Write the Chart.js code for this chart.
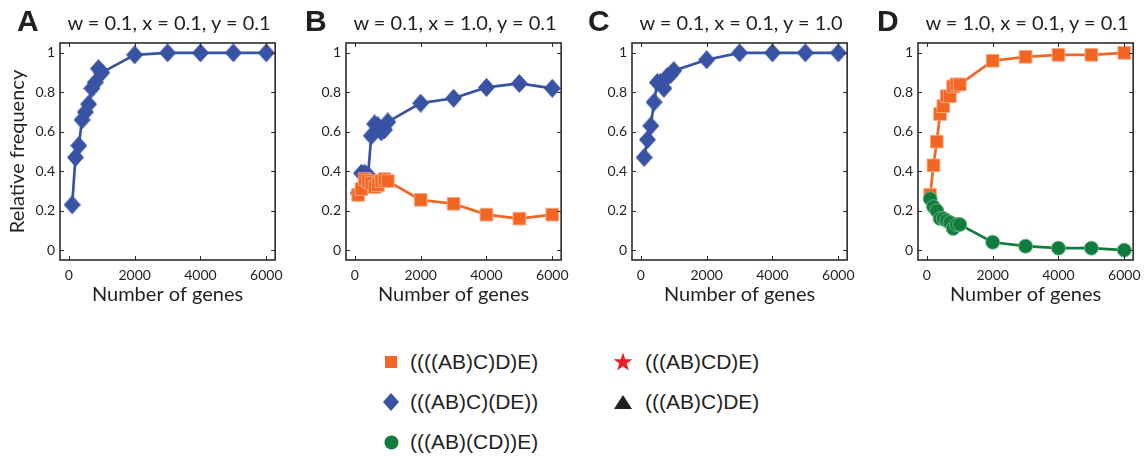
<!DOCTYPE html>
<html>
<head>
<meta charset="utf-8">
<script src="https://cdn.jsdelivr.net/npm/chart.js@4.4.1/dist/chart.umd.min.js"></script>
<style>
  body { margin: 0; width: 1146px; height: 458px; background: #fff; position: relative; overflow: hidden; font-family: Lato, "Noto Sans", sans-serif; color: #231f20; }
  .panel { position: absolute; top: 0; width: 290px; height: 310px; }
  .letter { position: absolute; top: 6px; font: bold 30px/30px "Liberation Sans", Arial, sans-serif; color: #231f20; }
  .title { position: absolute; top: 11px; width: 240px; text-align: center; font-size: 20px; line-height: 22px; color: #231f20; white-space: nowrap; }
  .legend-item { position: absolute; display: flex; align-items: center; font: 21px/24px "Liberation Sans", Arial, sans-serif; color: #231f20; white-space: nowrap; }
  .legend-item svg { position: absolute; }
</style>
</head>
<body>

<script>
// gene counts sampled along the x axis
const geneCounts = [100, 200, 300, 400, 500, 600, 700, 800, 900, 1000, 2000, 3000, 4000, 5000, 6000];
const xTickValues = [0, 2000, 4000, 6000];
const xTickLabels = ['0', '2000', '4000', '6000'];
const yTickValues = [0, 0.2, 0.4, 0.6, 0.8, 1];
const yTickLabels = ['0', '0.2', '0.4', '0.6', '0.8', '1'];

const panelLetters = ['A', 'B', 'C', 'D'];
const panelTitles = ['w = 0.1, x = 0.1, y = 0.1', 'w = 0.1, x = 1.0, y = 0.1',
                     'w = 0.1, x = 0.1, y = 1.0', 'w = 1.0, x = 0.1, y = 0.1'];

// relative frequency of each topology
const diamondA = [0.23, 0.47, 0.53, 0.66, 0.70, 0.74, 0.82, 0.85, 0.92, 0.90, 0.99, 1.0, 1.0, 1.0, 1.0];
const diamondB = [0.29, 0.39, 0.39, 0.38, 0.58, 0.64, 0.63, 0.60, 0.61, 0.65, 0.745, 0.77, 0.825, 0.845, 0.82];
const squareB  = [0.28, 0.31, 0.36, 0.35, 0.34, 0.32, 0.33, 0.35, 0.36, 0.35, 0.255, 0.235, 0.18, 0.16, 0.18];
const diamondC = [0.47, 0.56, 0.63, 0.75, 0.85, 0.85, 0.82, 0.88, 0.89, 0.91, 0.965, 1.0, 1.0, 1.0, 1.0];
const squareD  = [0.28, 0.43, 0.55, 0.69, 0.73, 0.78, 0.78, 0.83, 0.84, 0.84, 0.96, 0.98, 0.99, 0.99, 1.0];
const circleD  = [0.26, 0.22, 0.20, 0.16, 0.16, 0.15, 0.14, 0.11, 0.13, 0.13, 0.04, 0.02, 0.01, 0.01, 0.0];

const legendLabels = ['((((AB)C)D)E)', '(((AB)C)(DE))', '(((AB)(CD))E)', '(((AB)CD)E)', '(((AB)C)DE)'];

const BLUE = '#3953a4', ORANGE = '#f26522', GREEN = '#107c3e';
const plotLefts = [60, 346, 632, 918];

// matlab-style diamond, a bit taller than wide
function makeDiamond(w, h, color) {
  const c = document.createElement('canvas');
  c.width = w; c.height = h;
  const g = c.getContext('2d');
  g.fillStyle = color;
  g.beginPath();
  g.moveTo(w / 2, 0); g.lineTo(w, h / 2); g.lineTo(w / 2, h); g.lineTo(0, h / 2);
  g.closePath(); g.fill();
  return c;
}
const diamondImg = makeDiamond(17, 19, BLUE);

function series(values, kind) {
  const base = {
    data: values.map((v, i) => ({ x: geneCounts[i], y: v })),
    borderWidth: 2.7,
    pointBorderWidth: 1,
    clip: false
  };
  if (kind === 'diamond') {
    return Object.assign(base, { borderColor: BLUE, pointStyle: diamondImg, pointBackgroundColor: BLUE, pointBorderColor: BLUE });
  }
  if (kind === 'square') {
    return Object.assign(base, { borderColor: ORANGE, pointStyle: 'rect', pointRadius: 9,
      pointBackgroundColor: ORANGE, pointBorderColor: 'rgba(250,170,130,0.9)' });
  }
  return Object.assign(base, { borderColor: GREEN, pointStyle: 'circle', pointRadius: 7,
    pointBackgroundColor: GREEN, pointBorderColor: 'rgba(110,180,130,0.9)' });
}

// box around the plot area with short inward ticks on every side
const frameTicks = {
  id: 'frameTicks',
  afterDraw(chart) {
    const { ctx, chartArea: a, scales: { x, y } } = chart;
    ctx.save();
    ctx.strokeStyle = '#2b2b2b';
    ctx.lineWidth = 1;
    ctx.beginPath();
    xTickValues.forEach(v => {
      const px = Math.round(x.getPixelForValue(v)) + 0.5;
      ctx.moveTo(px, a.bottom); ctx.lineTo(px, a.bottom - 4);
      ctx.moveTo(px, a.top); ctx.lineTo(px, a.top + 4);
    });
    yTickValues.forEach(v => {
      const py = Math.round(y.getPixelForValue(v)) + 0.5;
      ctx.moveTo(a.left, py); ctx.lineTo(a.left + 4, py);
      ctx.moveTo(a.right, py); ctx.lineTo(a.right - 4, py);
    });
    ctx.stroke();
    ctx.lineWidth = 1.6;
    ctx.strokeRect(a.left, a.top, a.right - a.left, a.bottom - a.top);
    ctx.restore();
  }
};

function makePanel(i, datasets) {
  const wrap = document.createElement('div');
  wrap.className = 'panel';
  wrap.style.left = (plotLefts[i] - 60) + 'px';
  const cv = document.createElement('canvas');
  cv.width = 290; cv.height = 310;
  cv.style.width = '290px'; cv.style.height = '310px';
  wrap.appendChild(cv);
  document.body.appendChild(wrap);

  const letter = document.createElement('div');
  letter.className = 'letter';
  letter.textContent = panelLetters[i];
  letter.style.left = [17, 305, 588, 877][i] + 'px';
  document.body.appendChild(letter);

  const title = document.createElement('div');
  title.className = 'title';
  title.textContent = panelTitles[i];
  title.style.left = (plotLefts[i] + 109 - 120) + 'px';
  document.body.appendChild(title);

  new Chart(cv, {
    type: 'line',
    data: { datasets },
    options: {
      responsive: false,
      animation: false,
      devicePixelRatio: 1,
      events: [],
      layout: { padding: { top: 43, right: 12, left: 0, bottom: 0 } },
      scales: {
        x: {
          type: 'linear',
          min: -270, max: 6270,
          afterBuildTicks: s => { s.ticks = xTickValues.map(v => ({ value: v })); },
          afterFit: s => { s.height = 50; },
          border: { display: false },
          grid: { display: false, drawTicks: false },
          ticks: {
            padding: 7, color: '#231f20', maxRotation: 0,
            font: { family: 'Lato', size: 14 },
            callback: (v, k) => xTickLabels[k]
          },
          title: {
            display: true, text: 'Number of genes', color: '#231f20',
            font: { family: 'Lato', size: 20 }, padding: { top: 0, bottom: 3 }
          }
        },
        y: {
          min: -0.05, max: 1.05,
          afterBuildTicks: s => { s.ticks = yTickValues.map(v => ({ value: v })); },
          afterFit: s => { s.width = 60; },
          border: { display: false },
          grid: { display: false, drawTicks: false },
          ticks: {
            padding: 5, color: '#231f20',
            font: { family: 'Lato', size: 14 },
            callback: (v, k) => yTickLabels[k]
          },
          title: {
            display: i === 0, text: 'Relative frequency', color: '#231f20',
            font: { family: 'Lato', size: 20 }, padding: { top: 6, bottom: 0 }
          }
        }
      },
      plugins: { legend: { display: false }, tooltip: { enabled: false } }
    },
    plugins: [frameTicks]
  });
}

// green and orange lines sit on top where they overlap
[[series(diamondA, 'diamond')],
 [series(squareB, 'square'), series(diamondB, 'diamond')],
 [series(diamondC, 'diamond')],
 [series(circleD, 'circle'), series(squareD, 'square')]
].forEach((ds, i) => makePanel(i, ds));

// legend below the panels
const legendMarkers = [
  `<svg width="14" height="14"><rect x="1" y="1" width="12" height="12" fill="${ORANGE}"/></svg>`,
  `<svg width="16" height="18"><polygon points="8,0 16,9 8,18 0,9" fill="${BLUE}"/></svg>`,
  `<svg width="15" height="15"><circle cx="7.5" cy="7.5" r="7" fill="${GREEN}"/></svg>`,
  `<svg width="20" height="20"><polygon points="10,0.5 12.3,7.3 19.5,7.3 13.7,11.6 15.9,18.6 10,14.3 4.1,18.6 6.3,11.6 0.5,7.3 7.7,7.3" fill="#ed1c24"/></svg>`,
  `<svg width="18" height="14"><polygon points="9,0 18,14 0,14" fill="#231f20"/></svg>`
];
const legendPos = [[391, 410, 362], [391, 410, 402], [391, 410, 442], [623, 645, 362], [623, 645, 402]];
legendLabels.forEach((lab, k) => {
  const [mx, tx, cy] = legendPos[k];
  const item = document.createElement('div');
  item.className = 'legend-item';
  item.style.left = tx + 'px';
  item.style.top = (cy - 12) + 'px';
  item.innerHTML = legendMarkers[k] + '<span>' + lab + '</span>';
  const svg = item.querySelector('svg');
  const w = +svg.getAttribute('width'), h = +svg.getAttribute('height');
  svg.style.left = (mx - tx - w / 2) + 'px';
  svg.style.top = (12 - h / 2) + 'px';
  document.body.appendChild(item);
});
</script>
</body>
</html>
